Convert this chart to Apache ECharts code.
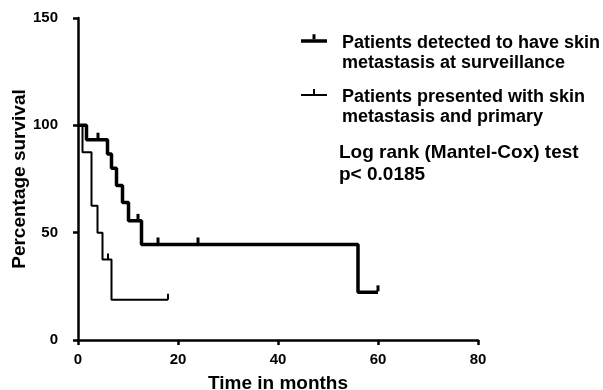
<!DOCTYPE html>
<html>
<head>
<meta charset="utf-8">
<script src="https://cdn.jsdelivr.net/npm/echarts@6/dist/echarts.min.js"></script>
<style>
html,body{margin:0;padding:0;background:#fff;}
#chart{width:603px;height:390px;}
</style>
</head>
<body>
<div id="chart"></div>
<script>
// Kaplan-Meier data
var seriesNames = [
  'Patients detected to have skin\nmetastasis at surveillance',
  'Patients presented with skin\nmetastasis and primary'
];
var surveillanceTimes    = [0, 1.7, 5.9, 6.7, 7.7, 8.9, 10.1, 12.7, 56, 60];
var surveillanceSurvival = [100, 93.3, 86.7, 80, 72, 64, 55.5, 44.5, 22.2, 22.2];
var surveillanceCensored = [4, 12, 16, 24, 60];

var primaryTimes    = [0, 0.9, 2.7, 3.9, 4.9, 6.7, 18];
var primarySurvival = [100, 87.5, 62.5, 50, 37.5, 18.75, 18.75];
var primaryCensored = [6, 18];

var xTicks = [0, 20, 40, 60, 80];
var yTicks = [0, 50, 100, 150];
var testText = 'Log rank (Mantel-Cox) test\np< 0.0185';

function pairs(ts, vs) { return ts.map(function (t, i) { return [t, vs[i]]; }); }
function stepAt(ts, vs, t) {
  var v = vs[0];
  for (var i = 0; i < ts.length; i++) { if (ts[i] <= t) v = vs[i]; }
  return v;
}
function censorPts(cs, ts, vs) { return cs.map(function (t) { return [t, stepAt(ts, vs, t)]; }); }

var FONT = '"Liberation Sans", Arial, sans-serif';
var chart = echarts.init(document.getElementById('chart'), null, {renderer: 'canvas'});

// legend drawn as graphic elements (icon = line with censor tick, two-line label)
function legendItem(top, text, lw, tickW) {
  return {
    type: 'group', left: 301, top: top,
    children: [
      {type: 'rect', shape: {x: 0, y: 8 - lw / 2, width: 26, height: lw}, style: {fill: '#000'}},
      {type: 'rect', shape: {x: 13 - tickW / 2, y: 8 - lw / 2 - 5, width: tickW, height: 5}, style: {fill: '#000'}},
      {type: 'text', x: 41, y: 0, style: {text: text, font: 'bold 18px ' + FONT, fill: '#000', lineHeight: 20, textVerticalAlign: 'top'}}
    ]
  };
}

chart.setOption({
  backgroundColor: '#ffffff',
  animation: false,
  grid: {left: 78, right: 125, top: 18, bottom: 50, containLabel: false, outerBoundsMode: 'none'},
  xAxis: {
    type: 'value', min: xTicks[0], max: xTicks[xTicks.length - 1], interval: 20,
    name: 'Time in months', nameLocation: 'middle', nameGap: 34, nameMoveOverlap: false,
    nameTextStyle: {fontFamily: FONT, fontWeight: 'bold', fontSize: 19, color: '#000'},
    axisLine: {show: true, lineStyle: {color: '#000', width: 2.5}},
    axisTick: {show: true, length: 5, lineStyle: {color: '#000', width: 2.5}},
    axisLabel: {fontFamily: FONT, fontWeight: 'bold', fontSize: 15, color: '#000', margin: 12},
    splitLine: {show: false}
  },
  yAxis: {
    type: 'value', min: yTicks[0], max: yTicks[yTicks.length - 1], interval: 50,
    name: 'Percentage survival', nameLocation: 'middle', nameGap: 49, nameMoveOverlap: false,
    nameTextStyle: {fontFamily: FONT, fontWeight: 'bold', fontSize: 19, color: '#000'},
    axisLine: {show: true, lineStyle: {color: '#000', width: 2.5}},
    axisTick: {show: true, length: 5, lineStyle: {color: '#000', width: 2.5}},
    axisLabel: {fontFamily: FONT, fontWeight: 'bold', fontSize: 15, color: '#000', margin: 20},
    splitLine: {show: false}
  },
  graphic: [
    legendItem(33, seriesNames[0], 3.5, 3),
    legendItem(87, seriesNames[1], 2, 2),
    {
      type: 'text', left: 339, top: 142,
      style: {text: testText, font: 'bold 19px ' + FONT, fill: '#000', lineHeight: 22}
    }
  ],
  series: [
    {
      name: seriesNames[0], type: 'line', step: 'end', symbol: 'none',
      data: pairs(surveillanceTimes, surveillanceSurvival),
      lineStyle: {color: '#000', width: 3.5}, itemStyle: {color: '#000'}
    },
    {
      name: seriesNames[1], type: 'line', step: 'end', symbol: 'none',
      data: pairs(primaryTimes, primarySurvival),
      lineStyle: {color: '#000', width: 2}, itemStyle: {color: '#000'}
    },
    {
      name: seriesNames[0], type: 'scatter', symbol: 'rect', symbolSize: [3, 6], symbolOffset: [0, -4],
      data: censorPts(surveillanceCensored, surveillanceTimes, surveillanceSurvival),
      itemStyle: {color: '#000', opacity: 1}
    },
    {
      name: seriesNames[1], type: 'scatter', symbol: 'rect', symbolSize: [2, 6], symbolOffset: [0, -3],
      data: censorPts(primaryCensored, primaryTimes, primarySurvival),
      itemStyle: {color: '#000', opacity: 1}
    }
  ]
});
</script>
</body>
</html>
